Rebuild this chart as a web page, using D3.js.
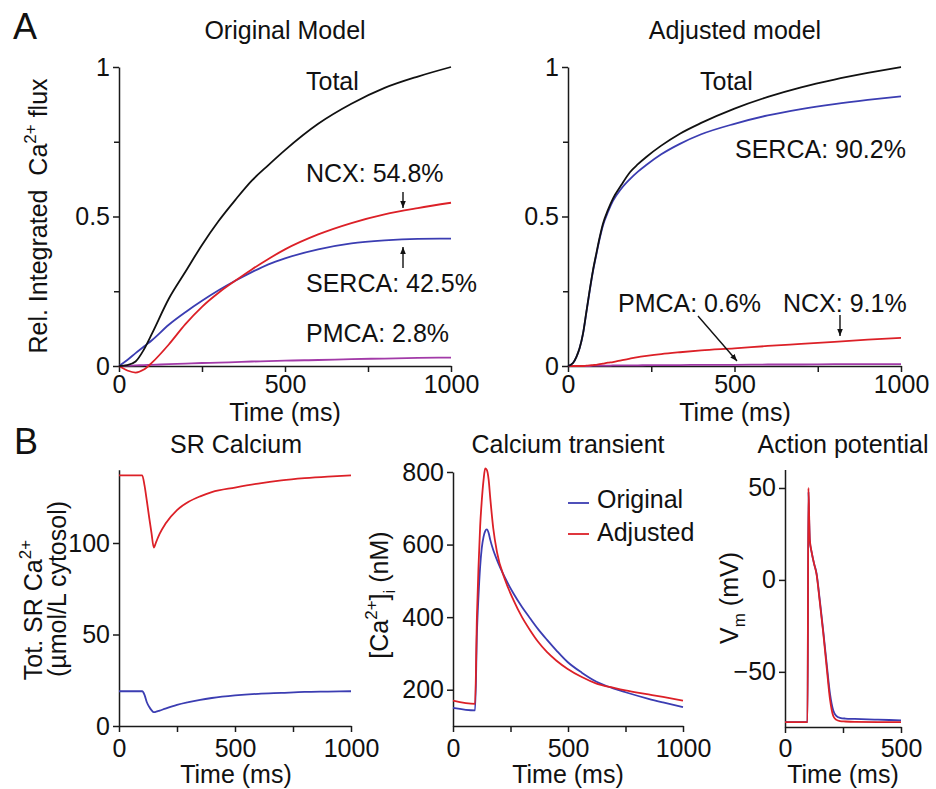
<!DOCTYPE html>
<html>
<head>
<meta charset="utf-8">
<script src="https://cdn.jsdelivr.net/npm/d3@7"></script>
<style>
body { margin: 0; background: #fff; }
svg { font-family: "Liberation Sans", Arial, sans-serif; }
</style>
</head>
<body>
<svg id="fig" width="936" height="789"></svg>
<script>
// A: integrated Ca2+ flux, original model
const tOrig = [0, 25, 50, 75, 100, 150, 200, 250, 300, 350, 400, 450, 500, 600, 700, 800, 900, 1000];
const totalOrig = [0, 0.003, 0.015, 0.055, 0.11, 0.225, 0.315, 0.405, 0.485, 0.555, 0.62, 0.672, 0.722, 0.81, 0.877, 0.93, 0.968, 1.0];
const ncxOrig = [0, -0.015, -0.022, -0.012, 0.012, 0.072, 0.14, 0.198, 0.245, 0.285, 0.323, 0.358, 0.39, 0.44, 0.478, 0.507, 0.528, 0.546];
const sercaOrig = [0, 0.02, 0.043, 0.065, 0.087, 0.138, 0.18, 0.218, 0.253, 0.285, 0.314, 0.34, 0.36, 0.39, 0.41, 0.42, 0.425, 0.426];
const pmcaOrig = [0, 0.001, 0.002, 0.003, 0.004, 0.006, 0.008, 0.01, 0.011, 0.013, 0.015, 0.016, 0.018, 0.02, 0.023, 0.025, 0.027, 0.028];

// A: adjusted model
const tAdj = [0, 15, 25, 35, 45, 55, 65, 75, 85, 95, 105, 120, 135, 160, 186, 210, 236, 280, 336, 400, 500, 600, 700, 800, 900, 1000];
const totalAdj = [0, 0.01, 0.03, 0.06, 0.108, 0.18, 0.253, 0.32, 0.376, 0.43, 0.476, 0.522, 0.56, 0.605, 0.648, 0.675, 0.7, 0.737, 0.777, 0.813, 0.861, 0.9, 0.932, 0.958, 0.98, 1.0];
const sercaAdj = [0, 0.01, 0.03, 0.06, 0.107, 0.178, 0.25, 0.317, 0.372, 0.425, 0.47, 0.515, 0.552, 0.593, 0.625, 0.65, 0.673, 0.708, 0.743, 0.775, 0.81, 0.838, 0.859, 0.876, 0.89, 0.902];
const ncxAdj = [0, 0, 0, 0, 0, 0.001, 0.002, 0.003, 0.004, 0.006, 0.008, 0.011, 0.013, 0.019, 0.025, 0.03, 0.034, 0.04, 0.046, 0.052, 0.059, 0.067, 0.074, 0.081, 0.088, 0.094];
const pmcaAdj = [0, 0, 0, 0, 0, 0, 0, 0.001, 0.001, 0.001, 0.001, 0.001, 0.002, 0.002, 0.002, 0.002, 0.003, 0.003, 0.003, 0.004, 0.004, 0.005, 0.005, 0.006, 0.006, 0.006];

// B: SR calcium
const tSR = [0, 100, 110, 120, 130, 140, 150, 160, 175, 200, 250, 300, 350, 400, 500, 600, 700, 800, 900, 1000];
const srAdj = [137, 137, 131.5, 123, 114, 105.5, 97.5, 100.5, 105, 110.5, 118, 122.5, 125.5, 127.8, 130.3, 132.5, 134.2, 135.4, 136.3, 137];
const srOrig = [19, 19, 17, 13, 10.5, 8.7, 7.6, 7.8, 8.4, 9.5, 11.5, 13, 14.3, 15.3, 16.7, 17.6, 18.1, 18.6, 18.8, 19];

// B: calcium transient
const tCa = [0, 96, 104, 111, 118, 125, 133, 140, 147, 155, 162, 175, 191, 225, 263, 300, 335, 370, 408, 450, 497, 560, 624, 700, 750, 850, 913, 1000];
const caOrig = [150, 143, 355, 460, 539, 590, 622, 637, 642, 632, 613, 585, 558, 510, 465, 428, 397, 367, 338, 308, 277, 247, 222, 203, 193, 175, 165, 152];
const caAdj = [170, 161, 401, 540, 650, 720, 779, 810, 806, 779, 728, 645, 580, 505, 447, 400, 364, 332, 304, 280, 258, 235, 217, 205, 198, 187, 180, 170];

// B: action potential
const tAP = [0, 97, 101, 104, 107, 115, 125, 136, 150, 165, 180, 194, 208, 220, 237, 260, 300, 400, 500];
const apAdj = [-77.3, -77.3, 50, 35, 22, 15, 9, 3, -12, -29, -48, -65, -74, -76, -76.8, -77, -77.2, -77.3, -77.4];
const apOrig = [-77.3, -77.3, 48, 33, 21, 15, 9, 3.6, -11, -28, -46, -62, -71, -73.8, -75, -75.4, -75.6, -76, -76.4];

const blue = "#3b3db2";
const red = "#dc2027";
const purple = "#a23aa8";
const font = "Liberation Sans, Arial, sans-serif";

const svg = d3.select("#fig");

svg.append("defs").append("marker")
    .attr("id", "arrow")
    .attr("viewBox", "0 0 10 10")
    .attr("refX", 10).attr("refY", 5)
    .attr("markerUnits", "userSpaceOnUse")
    .attr("markerWidth", 7).attr("markerHeight", 7)
    .attr("orient", "auto")
    .append("path")
    .attr("d", "M0,1L10,5L0,9Z")
    .attr("fill", "#111");

const fmt = d3.format("~g");

function styleAxis(g) {
    g.attr("font-size", 25).attr("font-family", font).attr("color", "#1a1a1a");
    g.selectAll("path, line").attr("stroke-width", 1.5);
    g.selectAll("text").attr("fill", "#111");
}

function panel(o) {
    const x = d3.scaleLinear().domain(o.xd).range(o.xr);
    const y = d3.scaleLinear().domain(o.yd).range(o.yr);

    svg.append("g")
        .attr("transform", `translate(0,${o.yr[0]})`)
        .call(d3.axisBottom(x).tickValues(o.xt).tickSize(6).tickSizeOuter(0).tickPadding(o.xp).tickFormat(fmt))
        .call(styleAxis);
    svg.append("g")
        .attr("transform", `translate(0,${o.yr[0]})`)
        .call(d3.axisBottom(x).tickValues(o.xm).tickSize(6).tickFormat(""))
        .call(styleAxis)
        .select(".domain").remove();

    svg.append("g")
        .attr("transform", `translate(${o.xr[0]},0)`)
        .call(d3.axisLeft(y).tickValues(o.yt).tickSize(6).tickSizeOuter(0).tickPadding(3).tickFormat(fmt))
        .call(styleAxis);
    svg.append("g")
        .attr("transform", `translate(${o.xr[0]},0)`)
        .call(d3.axisLeft(y).tickValues(o.ym).tickSize(5).tickFormat(""))
        .call(styleAxis)
        .select(".domain").remove();

    return { x, y };
}

function curve(p, t, v, color) {
    svg.append("path")
        .datum(t.map((d, i) => ({ t: d, v: v[i] })))
        .attr("fill", "none")
        .attr("stroke", color)
        .attr("stroke-width", 1.8)
        .attr("stroke-linejoin", "round")
        .attr("d", d3.line().x(d => p.x(d.t)).y(d => p.y(d.v)).curve(d3.curveMonotoneX));
}

// text with super/subscript parts
function label(x, y, parts, opts = {}) {
    const t = svg.append("text")
        .attr("transform", `translate(${x},${y})` + (opts.rotate ? " rotate(-90)" : ""))
        .attr("text-anchor", opts.anchor || "start")
        .attr("font-size", opts.size || 25)
        .attr("fill", "#111");
    let shift = 0;
    parts.forEach(p => {
        const s = typeof p === "string" ? p : p[0];
        const kind = typeof p === "string" ? "" : p[1];
        const target = kind === "sup" ? -11 : kind === "sub" ? 7 : 0;
        t.append("tspan")
            .attr("dy", target - shift)
            .attr("font-size", kind ? 17 : null)
            .style("white-space", "pre")
            .text(s);
        shift = target;
    });
    return t;
}

function arrow(x1, y1, x2, y2) {
    svg.append("line")
        .attr("x1", x1).attr("y1", y1).attr("x2", x2).attr("y2", y2)
        .attr("stroke", "#111").attr("stroke-width", 1.4)
        .attr("marker-end", "url(#arrow)");
}

// Panel A, original
const pA1 = panel({ xd: [0, 1000], xr: [119, 451], yd: [0, 1], yr: [366, 67],
    xt: [0, 500, 1000], xm: [250, 750], yt: [0, 0.5, 1], ym: [0.25, 0.75], xp: 3 });
curve(pA1, tOrig, pmcaOrig, purple);
curve(pA1, tOrig, sercaOrig, blue);
curve(pA1, tOrig, ncxOrig, red);
curve(pA1, tOrig, totalOrig, "#111");

// Panel A, adjusted
const pA2 = panel({ xd: [0, 1000], xr: [568, 901], yd: [0, 1], yr: [366, 67],
    xt: [0, 500, 1000], xm: [250, 750], yt: [0, 0.5, 1], ym: [0.25, 0.75], xp: 3 });
curve(pA2, tAdj, pmcaAdj, purple);
curve(pA2, tAdj, ncxAdj, red);
curve(pA2, tAdj, sercaAdj, blue);
curve(pA2, tAdj, totalAdj, "#111");

// Panel B, SR calcium
const pB1 = panel({ xd: [0, 1000], xr: [119, 351], yd: [0, 140], yr: [726, 469.8],
    xt: [0, 500, 1000], xm: [250, 750], yt: [0, 50, 100], ym: [], xp: 7 });
curve(pB1, tSR, srOrig, blue);
curve(pB1, tSR, srAdj, red);

// Panel B, calcium transient
const pB2 = panel({ xd: [0, 1000], xr: [453, 683], yd: [100, 800], yr: [726, 472],
    xt: [0, 500, 1000], xm: [250, 750], yt: [200, 400, 600, 800], ym: [], xp: 7 });
curve(pB2, tCa, caOrig, blue);
curve(pB2, tCa, caAdj, red);

// Panel B, action potential
const pB3 = panel({ xd: [0, 500], xr: [785, 901], yd: [-80, 60], yr: [727, 469.6],
    xt: [0, 500], xm: [250], yt: [-50, 0, 50], ym: [], xp: 6 });
curve(pB3, tAP, apOrig, blue);
curve(pB3, tAP, apAdj, red);

// panel letters and titles
label(13, 39, ["A"], { size: 36 });
label(14, 454, ["B"], { size: 36 });
label(285, 39, ["Original Model"], { anchor: "middle" });
label(735, 39, ["Adjusted model"], { anchor: "middle" });
label(236, 453, ["SR Calcium"], { anchor: "middle" });
label(568, 453, ["Calcium transient"], { anchor: "middle" });
label(843, 453, ["Action potential"], { anchor: "middle" });

// axis titles
label(285, 421, ["Time (ms)"], { anchor: "middle" });
label(735, 421, ["Time (ms)"], { anchor: "middle" });
label(236, 783, ["Time (ms)"], { anchor: "middle" });
label(568, 783, ["Time (ms)"], { anchor: "middle" });
label(843, 783, ["Time (ms)"], { anchor: "middle" });
label(47, 216, ["Rel. Integrated  Ca", ["2+", "sup"], " flux"], { anchor: "middle", rotate: true });
label(42, 610, ["Tot. SR Ca", ["2+", "sup"]], { anchor: "middle", rotate: true });
label(66, 589, ["(\u00b5mol/L cytosol)"], { anchor: "middle", rotate: true });
label(388, 595, ["[Ca", ["2+", "sup"], "]", ["i", "sub"], " (nM)"], { anchor: "middle", rotate: true });
label(738, 598, ["V", ["m", "sub"], " (mV)"], { anchor: "middle", rotate: true });

// annotations
label(306, 90, ["Total"]);
label(306, 182, ["NCX: 54.8%"]);
label(306, 292, ["SERCA: 42.5%"]);
label(306, 342, ["PMCA: 2.8%"]);
arrow(403, 192, 403, 208);
arrow(403, 268, 403, 247);

label(700, 90, ["Total"]);
label(735, 158, ["SERCA: 90.2%"]);
label(618, 312, ["PMCA: 0.6%"]);
label(783, 312, ["NCX: 9.1%"]);
arrow(698, 316, 737, 361);
arrow(840, 315, 840, 336);

// legend
const legend = [["Original", blue], ["Adjusted", red]];
legend.forEach((d, i) => {
    svg.append("line")
        .attr("x1", 568).attr("x2", 589)
        .attr("y1", 503 + i * 31).attr("y2", 503 + i * 31)
        .attr("stroke", d[1]).attr("stroke-width", 1.8);
    label(597, 508 + i * 33, [d[0]]);
});
</script>
</body>
</html>
